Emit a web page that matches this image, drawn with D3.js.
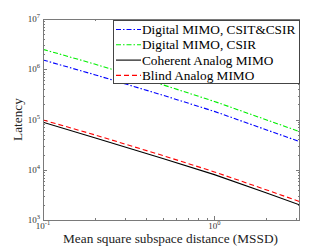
<!DOCTYPE html>
<html><head><meta charset="utf-8">
<script src="https://cdn.jsdelivr.net/npm/d3@7"></script>
<style>body{margin:0;background:#fff}svg{display:block}</style>
</head><body>
<script>
const xValues = [0.1, 0.2, 0.5, 1, 2, 3.16];
const blueDigitalCsitCsir = [1.53e6, 7.8e5, 3.05e5, 1.45e5, 6.27e4, 3.61e4];
const greenDigitalCsir = [2.49e6, 1.27e6, 4.91e5, 2.29e5, 9.9e4, 5.71e4];
const blackCoherent = [8.8e4, 4.34e4, 1.67e4, 8.0e3, 3.48e3, 1.99e3];
const redBlind = [9.8e4, 4.96e4, 1.92e4, 9.06e3, 4.01e3, 2.31e3];
const seriesNames = ["Digital MIMO, CSIT&CSIR", "Digital MIMO, CSIR", "Coherent Analog MIMO", "Blind Analog MIMO"];
const yTickExps = [3, 4, 5, 6, 7];
const xTickExps = [-1, 0];
const xLabel = "Mean square subspace distance (MSSD)";
const yLabel = "Latency";

const W = 332, H = 249;
const m = {l: 43, r: 32, t: 19, b: 29};
const svg = d3.select("body").append("svg").attr("width", W).attr("height", H);
const x = d3.scaleLog().domain([0.1, 3.16]).range([m.l, W - m.r]);
const y = d3.scaleLog().domain([1e3, 1e7]).range([H - m.b, m.t]);
const font = "'Liberation Serif','Times New Roman',serif";
const axisCol = "#7a7a7a";

const g = svg.append("g");
const xMinor = [], yMinor = [];
for (let e = -1; e <= 0; e++) for (let k = 1; k <= 9; k++) { const v = k * Math.pow(10, e); if (v >= 0.1 && v <= 3.16) xMinor.push([v, k === 1]); }
for (let e = 3; e <= 6; e++) for (let k = 1; k <= 9; k++) yMinor.push([k * Math.pow(10, e), k === 1]);
yMinor.push([1e7, true]);
const x0 = m.l, x1 = W - m.r, y0 = H - m.b, y1 = m.t;
xMinor.forEach(([v, maj]) => {
  const L = maj ? 4 : 2, px = Math.round(x(v)) + 0.5;
  g.append("line").attr("x1", px).attr("x2", px).attr("y1", y0).attr("y2", y0 - L).attr("stroke", axisCol);
  g.append("line").attr("x1", px).attr("x2", px).attr("y1", y1).attr("y2", y1 + L).attr("stroke", axisCol);
});
yMinor.forEach(([v, maj]) => {
  const L = maj ? 4 : 2, py = Math.round(y(v)) + 0.5;
  g.append("line").attr("x1", x0).attr("x2", x0 + L).attr("y1", py).attr("y2", py).attr("stroke", axisCol);
  g.append("line").attr("x1", x1).attr("x2", x1 - L).attr("y1", py).attr("y2", py).attr("stroke", axisCol);
});

const line = d3.line().x((d, i) => x(xValues[i])).y(d => y(d));
const series = [
  {v: blueDigitalCsitCsir, c: "#0000ff", dash: "5,2,1.5,2"},
  {v: greenDigitalCsir, c: "#00ee00", dash: "5,2,1.5,2"},
  {v: blackCoherent, c: "#000000", dash: null},
  {v: redBlind, c: "#ff0000", dash: "5,3"}
];
svg.append("clipPath").attr("id", "c").append("rect").attr("x", x0).attr("y", y1).attr("width", x1 - x0).attr("height", y0 - y1);
series.forEach(s => {
  svg.append("path").datum(s.v).attr("d", line).attr("fill", "none").attr("stroke", s.c)
    .attr("stroke-width", 1.1).attr("stroke-dasharray", s.dash).attr("clip-path", "url(#c)");
});

svg.append("rect").attr("x", x0 + 0.5).attr("y", y1 + 0.5).attr("width", x1 - x0 - 1).attr("height", y0 - y1).attr("fill", "none").attr("stroke", axisCol);

yTickExps.forEach(e => {
  const t = svg.append("text").attr("x", x0 - 3).attr("y", y(Math.pow(10, e)) + 3).attr("text-anchor", "end")
    .attr("font-family", font).attr("font-size", 9).attr("fill", "#333");
  t.append("tspan").text("10");
  t.append("tspan").attr("dy", -4).attr("font-size", 6.5).text(e);
});
xTickExps.forEach(e => {
  const t = svg.append("text").attr("x", x(Math.pow(10, e))).attr("y", y0 + 9).attr("text-anchor", "middle")
    .attr("font-family", font).attr("font-size", 9).attr("fill", "#333");
  t.append("tspan").text("10");
  t.append("tspan").attr("dy", -4).attr("font-size", 6.5).text(e === -1 ? "-1" : e);
});

svg.append("text").attr("x", 170.5).attr("y", 243).attr("text-anchor", "middle")
  .attr("font-family", font).attr("font-size", 13.3).attr("fill", "#222").text(xLabel);
svg.append("text").attr("transform", `translate(22,${(y0 + y1) / 2}) rotate(-90)`).attr("text-anchor", "middle")
  .attr("font-family", font).attr("font-size", 13.3).attr("fill", "#222").text(yLabel);

const lg = svg.append("g");
const lx = 113, ly = 20, lw = x1 - lx, lh = 63;
lg.append("rect").attr("x", lx + 0.5).attr("y", ly + 0.5).attr("width", lw - 1).attr("height", lh).attr("fill", "#fff").attr("stroke", "#444");
series.forEach((s, i) => {
  const cy = ly + 9.5 + i * 15.3;
  lg.append("line").attr("x1", lx + 3).attr("x2", lx + 28).attr("y1", cy).attr("y2", cy)
    .attr("stroke", s.c).attr("stroke-width", 1.1).attr("stroke-dasharray", s.dash);
  lg.append("text").attr("x", lx + 29).attr("y", cy + 4.5).attr("font-family", font).attr("font-size", 13.3)
    .attr("fill", "#000").text(seriesNames[i]);
});
</script>
</body></html>
